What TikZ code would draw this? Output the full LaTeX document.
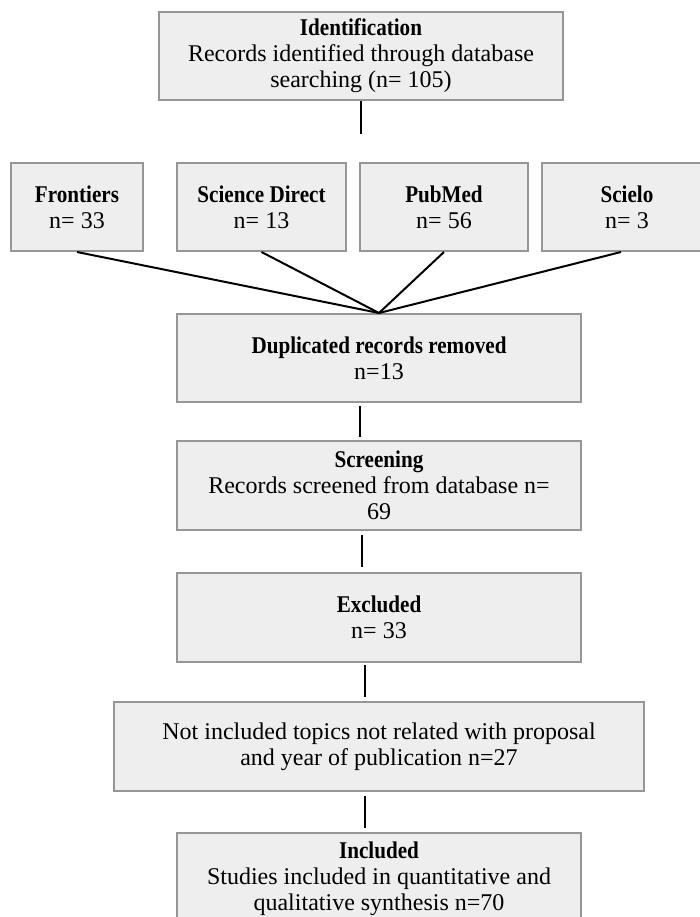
\documentclass[tikz,border=0pt]{standalone}
\usepackage{fontspec}
\setmainfont{Liberation Serif}
\newfontfamily\hdfam[FakeStretch=0.88]{Liberation Serif}
\newcommand{\hd}[1]{{\hdfam\bfseries #1}}
\definecolor{boxfill}{HTML}{EEEEEE}
\definecolor{boxline}{HTML}{969696}
\begin{document}
\begin{tikzpicture}[x=1pt,y=-1pt,
  flowbox/.style={draw=boxline, fill=boxfill, line width=2pt, inner sep=0pt,
    align=center, font=\fontsize{24}{26}\selectfont},
  conn/.style={line width=2pt, black}]
\useasboundingbox (0,0) rectangle (700,917);
\clip (0,0) rectangle (700,917);
\node[flowbox, minimum width=404pt, minimum height=88pt] (top) at (361,56)
  {\hd{Identification}\\Records identified through database\\searching (n= 105)};
\node[flowbox, minimum width=132pt, minimum height=88pt] (fr) at (77,207)
  {\hd{Frontiers}\\n= 33};
\node[flowbox, minimum width=169pt, minimum height=88pt] (sd) at (261.5,207)
  {\hd{Science Direct}\\n= 13};
\node[flowbox, minimum width=168pt, minimum height=88pt] (pm) at (444,207)
  {\hd{PubMed}\\n= 56};
\node[flowbox, minimum width=170pt, minimum height=88pt] (sc) at (627,207)
  {\hd{Scielo}\\n= 3};
\node[flowbox, minimum width=404pt, minimum height=88pt] (dup) at (379,358)
  {\hd{Duplicated records removed}\\n=13};
\node[flowbox, minimum width=404pt, minimum height=89pt] (scr) at (379,485.5)
  {\hd{Screening}\\Records screened from database n=\\69};
\node[flowbox, minimum width=404pt, minimum height=89pt] (exc) at (379,617.5)
  {\hd{Excluded}\\n= 33};
\node[flowbox, minimum width=530pt, minimum height=89pt] (not) at (379,746.5)
  {Not included topics not related with proposal\\and year of publication n=27};
\node[flowbox, minimum width=404pt, minimum height=92pt] (inc) at (379,879)
  {\hd{Included}\\Studies included in quantitative and\\qualitative synthesis n=70};
\coordinate (t1) at (361,134);
\draw[conn] (top.south) -- (t1);
\draw[conn] (fr.south) -- (dup.north);
\draw[conn] (sd.south) -- (dup.north);
\draw[conn] (pm.south) -- (dup.north);
\draw[conn] ([xshift=-6pt]sc.south) -- (dup.north);
\draw[conn, shorten <=3pt, shorten >=3pt] ([xshift=-19pt]dup.south) -- ([xshift=-19pt]scr.north);
\draw[conn, shorten <=4pt, shorten >=5pt] ([xshift=-17pt]scr.south) -- ([xshift=-17pt]exc.north);
\draw[conn, shorten <=2pt, shorten >=4pt] ([xshift=-14pt]exc.south) -- ([xshift=-14pt]not.north);
\draw[conn, shorten <=4pt, shorten >=4pt] ([xshift=-14pt]not.south) -- ([xshift=-14pt]inc.north);
\end{tikzpicture}
\end{document}
